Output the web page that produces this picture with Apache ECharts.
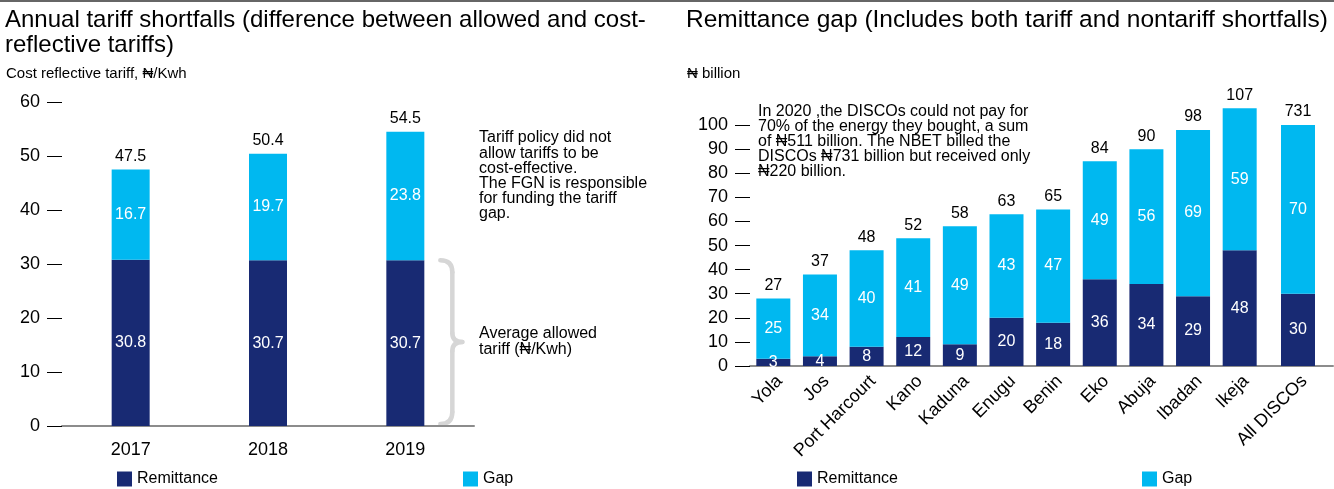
<!DOCTYPE html>
<html>
<head>
<meta charset="utf-8">
<script src="https://cdn.jsdelivr.net/npm/echarts@6/dist/echarts.min.js"></script>
<style>
  html, body { margin: 0; padding: 0; background: #fff; }
  #chart { width: 1334px; height: 489px; }
</style>
</head>
<body>
<div id="chart"></div>
<script>
// Annual tariff shortfalls, ₦/Kwh
const years = ['2017', '2018', '2019'];
const tariffRemittance = [30.8, 30.7, 30.7];
const tariffGap = [16.7, 19.7, 23.8];
const tariffTotal = ['47.5', '50.4', '54.5'];
const tariffTicks = [0, 10, 20, 30, 40, 50, 60];

// Remittance gap by DISCO, ₦ billion
const discos = ['Yola', 'Jos', 'Port Harcourt', 'Kano', 'Kaduna', 'Enugu', 'Benin', 'Eko', 'Abuja', 'Ibadan', 'Ikeja'];
const discoRemittance = [3, 4, 8, 12, 9, 20, 18, 36, 34, 29, 48];
const discoGap = [25, 34, 40, 41, 49, 43, 47, 49, 56, 69, 59];
const discoTotal = ['27', '37', '48', '52', '58', '63', '65', '84', '90', '98', '107'];

// All DISCOs, shown as shares of the amount billed
const allLabel = ['All DISCOs'];
const allRemittance = [30];
const allGap = [70];
const allTotal = ['731'];
const gapTicks = [0, 10, 20, 30, 40, 50, 60, 70, 80, 90, 100];

const NAVY = '#182a73';
const CYAN = '#00b8f0';
const FONT = "'Liberation Sans', Arial, sans-serif";

const chart = echarts.init(document.getElementById('chart'), null, { renderer: 'canvas' });

function valueAxis(gridIndex, max, ticks, show) {
  return {
    type: 'value', gridIndex, min: 0, max, interval: 10,
    show,
    splitLine: { show: false },
    axisLine: { show: false },
    axisTick: { show: true, length: 15, inside: false, customValues: ticks, lineStyle: { color: '#000', width: 1 } },
    axisLabel: { show: true, customValues: ticks, margin: 22, fontSize: 18, color: '#000', fontFamily: FONT }
  };
}

function catAxis(gridIndex, data, rotate) {
  return {
    type: 'category', gridIndex, data,
    axisLine: { show: true, lineStyle: { color: '#8c8c8c', width: 2 } },
    axisTick: { show: false },
    axisLabel: rotate
      ? { fontSize: 18, color: '#000', fontFamily: FONT, rotate: 45, margin: 6, interval: 0, verticalAlign: 'top' }
      : { fontSize: 18, color: '#000', fontFamily: FONT, margin: 15, interval: 0 }
  };
}

const inLabel = { show: true, position: 'inside', color: '#fff', fontSize: 16, fontFamily: FONT };

function stackSeries(name, x, stack, data, color, width) {
  return {
    name, type: 'bar', xAxisIndex: x, yAxisIndex: x, stack, data, barWidth: width,
    itemStyle: { color }, label: inLabel, emphasis: { disabled: true }
  };
}

function totalSeries(x, stack, totals, width) {
  return {
    name: 'total', type: 'bar', xAxisIndex: x, yAxisIndex: x, stack,
    data: totals.map(() => 0), barWidth: width, silent: true,
    itemStyle: { color: 'transparent' },
    label: {
      show: true, position: 'top', distance: 5, color: '#000', fontSize: 16, fontFamily: FONT,
      formatter: p => totals[p.dataIndex]
    }
  };
}

function legendItem(name, left) {
  return {
    data: [name], left, top: 466, itemWidth: 15, itemHeight: 15, icon: 'rect',
    selectedMode: false,
    textStyle: { fontSize: 16, color: '#000', fontFamily: FONT }
  };
}

const textBlock = (left, top, text, size, lh) => ({
  type: 'text', left, top,
  style: { text, fontSize: size, fontFamily: FONT, fill: '#000', lineHeight: lh }
});

chart.setOption({
  animation: false,
  title: [
    {
      text: 'Annual tariff shortfalls (difference between allowed and cost-\nreflective tariffs)',
      left: 0, top: 3,
      textStyle: { fontSize: 24, fontWeight: 'normal', color: '#000', fontFamily: FONT, lineHeight: 25 }
    },
    {
      text: 'Cost reflective tariff, ₦/Kwh', left: 1, top: 61,
      textStyle: { fontSize: 15, fontWeight: 'normal', color: '#000', fontFamily: FONT }
    },
    {
      text: 'Remittance gap (Includes both tariff and nontariff shortfalls)',
      left: 681, top: 3,
      textStyle: { fontSize: 24.5, fontWeight: 'normal', color: '#000', fontFamily: FONT, lineHeight: 25 }
    },
    {
      text: '₦ billion', left: 682, top: 61,
      textStyle: { fontSize: 15, fontWeight: 'normal', color: '#000', fontFamily: FONT }
    }
  ],
  legend: [
    legendItem('Remittance', 112),
    legendItem('Gap', 458),
    legendItem('Remittance', 792),
    legendItem('Gap', 1137)
  ],
  grid: [
    { left: 62, top: 102, width: 412, bottom: 63 },
    { left: 750, top: 101, width: 513, bottom: 123 },
    { left: 1263, top: 101, width: 70, bottom: 123 }
  ],
  xAxis: [
    catAxis(0, years, false),
    catAxis(1, discos, true),
    catAxis(2, allLabel, true)
  ],
  yAxis: [
    valueAxis(0, 60, tariffTicks, true),
    valueAxis(1, 110, gapTicks, true),
    valueAxis(2, 110, gapTicks, false)
  ],
  series: [
    stackSeries('Remittance', 0, 'tariff', tariffRemittance, NAVY, 38),
    stackSeries('Gap', 0, 'tariff', tariffGap, CYAN, 38),
    totalSeries(0, 'tariff', tariffTotal, 38),
    stackSeries('Remittance', 1, 'disco', discoRemittance, NAVY, 34),
    stackSeries('Gap', 1, 'disco', discoGap, CYAN, 34),
    totalSeries(1, 'disco', discoTotal, 34),
    stackSeries('Remittance', 2, 'all', allRemittance, NAVY, 34),
    stackSeries('Gap', 2, 'all', allGap, CYAN, 34),
    totalSeries(2, 'all', allTotal, 34)
  ]
});

// Brace spanning the allowed tariff of the last year
const braceTop = chart.convertToPixel({ yAxisIndex: 0 }, tariffRemittance[2]);
const braceBottom = chart.convertToPixel({ yAxisIndex: 0 }, 0) - 2;
const lastBar = chart.convertToPixel({ xAxisIndex: 0 }, years[2]);
const xl = lastBar + 35, xs = lastBar + 47, xr = lastBar + 57;
const ym = (braceTop + braceBottom) / 2;
const braceStyle = { stroke: '#d6d6d6', lineWidth: 4.5, fill: null, lineCap: 'round' };
const curve = (x1, y1, cx, cy, x2, y2) => ({
  type: 'bezierCurve', shape: { x1, y1, cpx1: cx, cpy1: cy, x2, y2 }, style: braceStyle
});
const seg = (x1, y1, x2, y2) => ({ type: 'line', shape: { x1, y1, x2, y2 }, style: braceStyle });

chart.setOption({
  graphic: [
    { type: 'line', shape: { x1: 0, y1: 1, x2: 1334, y2: 1 }, style: { stroke: '#333', lineWidth: 1.5 } },
    curve(xl, braceTop, xs, braceTop, xs, braceTop + 12),
    seg(xs, braceTop + 12, xs, ym - 9),
    curve(xs, ym - 9, xs, ym, xr, ym),
    curve(xr, ym, xs, ym, xs, ym + 9),
    seg(xs, ym + 9, xs, braceBottom - 12),
    curve(xs, braceBottom - 12, xs, braceBottom, xl, braceBottom),
    textBlock(479, 130, 'Tariff policy did not\nallow tariffs to be\ncost-effective.\nThe FGN is responsible\nfor funding the tariff\ngap.', 16, 15.2),
    textBlock(479, 326, 'Average allowed\ntariff (₦/Kwh)', 16, 15.2),
    textBlock(758, 104, 'In 2020 ,the DISCOs could not pay for\n70% of the energy they bought, a sum\nof ₦511 billion. The NBET billed the\nDISCOs ₦731 billion but received only\n₦220 billion.', 16, 14.8)
  ]
});
</script>
</body>
</html>
